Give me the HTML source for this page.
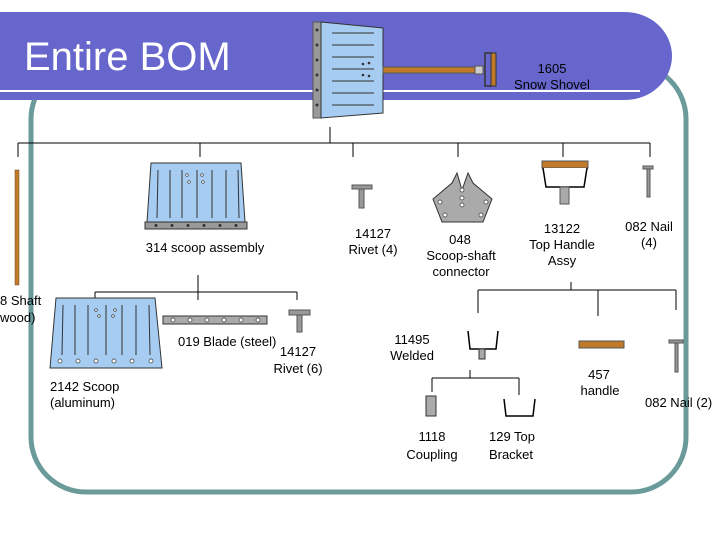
<!DOCTYPE html>
<html><head><meta charset="utf-8"><style>
html,body{margin:0;padding:0;background:#fff;width:720px;height:540px;overflow:hidden}
text{font-family:"Liberation Sans",sans-serif;font-size:13px;fill:#000}
</style></head><body>
<svg width="720" height="540" viewBox="0 0 720 540" xmlns="http://www.w3.org/2000/svg">
<rect x="31" y="64" width="655" height="428" rx="55" fill="none" stroke="#6a9a9a" stroke-width="5"/>
<path d="M0 12 H625 A47 44 0 0 1 625 100 H0 Z" fill="#6666cc"/>
<line x1="0" y1="91" x2="640" y2="91" stroke="#fff" stroke-width="2"/>
<text x="24" y="70" style="font-size:40px;fill:#fff">Entire BOM</text>
<rect x="313" y="22" width="8" height="96" fill="#999" stroke="#555"/>
<g fill="#333"><circle cx="317" cy="30" r="1.5"/><circle cx="317" cy="45" r="1.5"/><circle cx="317" cy="60" r="1.5"/><circle cx="317" cy="75" r="1.5"/><circle cx="317" cy="90" r="1.5"/><circle cx="317" cy="105" r="1.5"/></g>
<polygon points="321,22 383,28 383,113 321,118" fill="#a6ccf2" stroke="#333"/>
<g stroke="#333"><line x1="332" y1="33" x2="374" y2="33"/><line x1="332" y1="45" x2="374" y2="45"/><line x1="332" y1="57" x2="374" y2="57"/><line x1="332" y1="69" x2="374" y2="69"/><line x1="332" y1="81" x2="374" y2="81"/><line x1="332" y1="93" x2="374" y2="93"/><line x1="332" y1="105" x2="374" y2="105"/></g>
<g fill="#333"><circle cx="363" cy="64" r="1.3"/><circle cx="369" cy="63" r="1.3"/><circle cx="363" cy="75" r="1.3"/><circle cx="369" cy="76" r="1.3"/></g>
<rect x="383" y="67" width="92" height="6" fill="#c07a2a" stroke="#555"/>
<rect x="475" y="66" width="8" height="8" fill="#ccc" stroke="#555"/>
<path d="M492 53 H485 V86 H492" fill="none" stroke="#333" stroke-width="1.5"/>
<rect x="491" y="53" width="5" height="33" fill="#c07a2a" stroke="#333"/>
<text x="552" y="73" text-anchor="middle">1605</text>
<text x="552" y="89" text-anchor="middle">Snow Shovel</text>
<g stroke="#000" stroke-width="1" fill="none">
<line x1="330" y1="127" x2="330" y2="143"/>
<line x1="18" y1="143" x2="650" y2="143"/>
<line x1="18" y1="143" x2="18" y2="157"/><line x1="200" y1="143" x2="200" y2="157"/><line x1="353" y1="143" x2="353" y2="157"/><line x1="458" y1="143" x2="458" y2="157"/><line x1="563" y1="143" x2="563" y2="157"/><line x1="650" y1="143" x2="650" y2="157"/>
<line x1="198" y1="275" x2="198" y2="292"/><line x1="95" y1="292" x2="297" y2="292"/>
<line x1="95" y1="292" x2="95" y2="300"/><line x1="198" y1="292" x2="198" y2="300"/><line x1="297" y1="292" x2="297" y2="300"/>
<line x1="571" y1="282" x2="571" y2="290"/><line x1="478" y1="290" x2="676" y2="290"/>
<line x1="478" y1="290" x2="478" y2="313"/><line x1="598" y1="290" x2="598" y2="316"/><line x1="676" y1="290" x2="676" y2="310"/>
<line x1="470" y1="370" x2="470" y2="378"/><line x1="432" y1="378" x2="519" y2="378"/>
<line x1="432" y1="378" x2="432" y2="392"/><line x1="519" y1="378" x2="519" y2="395"/>
</g>
<rect x="15" y="170" width="4" height="115" fill="#c07a2a" stroke="#6b4b20" stroke-width="0.5"/>
<text x="0" y="305">8 Shaft</text><text x="0" y="322">wood)</text>
<polygon points="151,163 241,163 245,222 147,222" fill="#a6ccf2" stroke="#333"/>
<rect x="145" y="222" width="102" height="7" fill="#999" stroke="#333"/>
<g fill="#333"><circle cx="156" cy="225.5" r="1.5"/><circle cx="172" cy="225.5" r="1.5"/><circle cx="188" cy="225.5" r="1.5"/><circle cx="204" cy="225.5" r="1.5"/><circle cx="220" cy="225.5" r="1.5"/><circle cx="236" cy="225.5" r="1.5"/></g>
<g stroke="#333"><line x1="158" y1="170" x2="157" y2="218"/><line x1="170" y1="170" x2="170" y2="218"/><line x1="182" y1="170" x2="182" y2="218"/><line x1="197" y1="170" x2="197" y2="218"/><line x1="212" y1="170" x2="212" y2="218"/><line x1="226" y1="170" x2="226" y2="218"/><line x1="238" y1="170" x2="239" y2="218"/></g>
<g fill="#fff" stroke="#333" stroke-width="0.6"><circle cx="187" cy="175" r="1.3"/><circle cx="189" cy="182" r="1.3"/><circle cx="202" cy="175" r="1.3"/><circle cx="203" cy="182" r="1.3"/></g>
<text x="205" y="252" text-anchor="middle">314 scoop assembly</text>
<rect x="352" y="185" width="20" height="4" fill="#999" stroke="#555"/><rect x="359" y="189" width="5" height="19" fill="#999" stroke="#555"/>
<text x="373" y="238" text-anchor="middle">14127</text><text x="373" y="254" text-anchor="middle">Rivet (4)</text>
<polygon points="433,199 452,183 457,173 462,190 468,173 473,183 492,199 483,222 442,222" fill="#aaa" stroke="#333"/>
<g fill="#fff" stroke="#333" stroke-width="0.7"><circle cx="440" cy="202" r="2"/><circle cx="486" cy="202" r="2"/><circle cx="462" cy="190" r="2"/><circle cx="462" cy="198" r="2"/><circle cx="462" cy="205" r="2"/><circle cx="445" cy="215" r="2"/><circle cx="481" cy="215" r="2"/></g>
<text x="460" y="244" text-anchor="middle">048</text><text x="461" y="260" text-anchor="middle">Scoop-shaft</text><text x="461" y="276" text-anchor="middle">connector</text>
<rect x="542" y="161" width="46" height="7" fill="#c07a2a" stroke="#555"/>
<path d="M543 168 L546 187 H584 L587 168" fill="#fff" stroke="#000" stroke-width="1.5"/>
<rect x="560" y="187" width="9" height="17" fill="#aaa" stroke="#555"/>
<text x="562" y="233" text-anchor="middle">13122</text><text x="562" y="249" text-anchor="middle">Top Handle</text><text x="562" y="265" text-anchor="middle">Assy</text>
<rect x="643" y="166" width="10" height="3" fill="#999" stroke="#555"/><rect x="647" y="169" width="3" height="28" fill="#999" stroke="#555"/>
<text x="649" y="231" text-anchor="middle">082 Nail</text><text x="649" y="247" text-anchor="middle">(4)</text>
<polygon points="56,298 155,298 162,368 50,368" fill="#a6ccf2" stroke="#333"/>
<g stroke="#333"><line x1="63" y1="305" x2="62" y2="355"/><line x1="75" y1="305" x2="75" y2="355"/><line x1="88" y1="305" x2="88" y2="355"/><line x1="106" y1="305" x2="106" y2="355"/><line x1="122" y1="305" x2="122" y2="355"/><line x1="136" y1="305" x2="136" y2="355"/><line x1="149" y1="305" x2="150" y2="355"/></g>
<g fill="#fff" stroke="#333" stroke-width="0.7"><circle cx="60" cy="361" r="2"/><circle cx="78" cy="361" r="2"/><circle cx="96" cy="361" r="2"/><circle cx="114" cy="361" r="2"/><circle cx="132" cy="361" r="2"/><circle cx="151" cy="361" r="2"/><circle cx="96" cy="310" r="1.3"/><circle cx="99" cy="316" r="1.3"/><circle cx="115" cy="310" r="1.3"/><circle cx="113" cy="316" r="1.3"/></g>
<text x="50" y="391">2142 Scoop</text><text x="50" y="407">(aluminum)</text>
<rect x="163" y="316" width="104" height="8" fill="#aaa" stroke="#333"/>
<g fill="#fff" stroke="#333" stroke-width="0.7"><circle cx="173" cy="320" r="2"/><circle cx="190" cy="320" r="2"/><circle cx="207" cy="320" r="2"/><circle cx="224" cy="320" r="2"/><circle cx="241" cy="320" r="2"/><circle cx="258" cy="320" r="2"/></g>
<text x="178" y="346">019 Blade (steel)</text>
<rect x="289" y="310" width="21" height="5" fill="#999" stroke="#555"/><rect x="297" y="315" width="5" height="17" fill="#999" stroke="#555"/>
<text x="298" y="356" text-anchor="middle">14127</text><text x="298" y="373" text-anchor="middle">Rivet (6)</text>
<path d="M468 331 L470 349 H496 L498 331" fill="none" stroke="#000" stroke-width="1.5"/>
<rect x="479" y="349" width="6" height="10" fill="#aaa" stroke="#333"/>
<text x="412" y="344" text-anchor="middle">11495</text><text x="412" y="360" text-anchor="middle">Welded</text>
<rect x="579" y="341" width="45" height="7" fill="#c07a2a" stroke="#555"/>
<text x="599" y="379" text-anchor="middle">457</text><text x="600" y="395" text-anchor="middle">handle</text>
<rect x="669" y="340" width="14" height="3" fill="#999" stroke="#555"/><rect x="675" y="343" width="3" height="29" fill="#999" stroke="#555"/>
<text x="645" y="407">082 Nail (2)</text>
<rect x="426" y="396" width="10" height="20" fill="#aaa" stroke="#333"/>
<text x="432" y="441" text-anchor="middle">1118</text><text x="432" y="459" text-anchor="middle">Coupling</text>
<path d="M504 399 L506 416 H533 L535 399" fill="none" stroke="#000" stroke-width="1.5"/>
<text x="512" y="441" text-anchor="middle">129 Top</text><text x="511" y="459" text-anchor="middle">Bracket</text>
</svg>
</body></html>
